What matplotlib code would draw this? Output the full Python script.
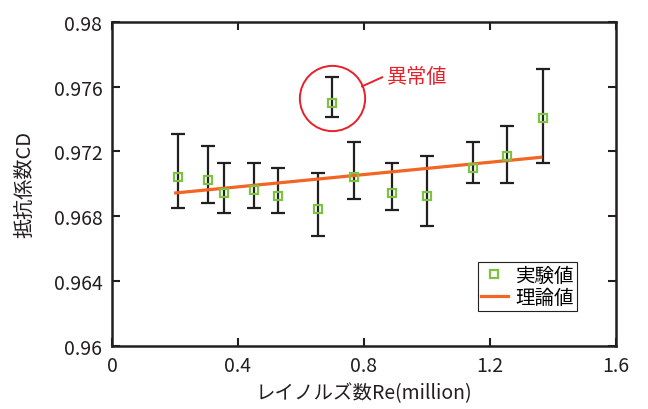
import matplotlib
matplotlib.use("Agg")
import matplotlib.pyplot as plt

plt.rcParams['font.family'] = ['Noto Sans CJK JP', 'DejaVu Sans']

# measured values (Re in million)
re_exp = [0.211, 0.305, 0.355, 0.452, 0.526, 0.655, 0.699, 0.767, 0.888, 1.000, 1.146, 1.254, 1.367]
cd_exp = [0.97043, 0.97023, 0.96941, 0.96961, 0.96922, 0.96844, 0.97500, 0.97043, 0.96943, 0.96922, 0.97099, 0.97169, 0.97404]
cd_top = [0.97309, 0.97235, 0.97126, 0.97126, 0.97099, 0.97068, 0.97659, 0.97259, 0.97126, 0.97173, 0.97259, 0.97358, 0.97708]
cd_bot = [0.96848, 0.96879, 0.96817, 0.96848, 0.96817, 0.96679, 0.97412, 0.96906, 0.96836, 0.96741, 0.97004, 0.97004, 0.97128]

# theory line
re_th = [0.2025, 1.361]
cd_th = [0.96943, 0.97163]

outlier = 6

xticks = [0, 0.4, 0.8, 1.2, 1.6]
yticks = [0.96, 0.964, 0.968, 0.972, 0.976, 0.98]

green = '#7dc242'
orange = '#f26522'
red = '#e8202a'

fig = plt.figure(figsize=(6.48, 4.10), dpi=100)
ax = fig.add_axes([0.1728, 0.1544, 0.7778, 0.7902])

lo = [c - b for c, b in zip(cd_exp, cd_bot)]
hi = [t - c for c, t in zip(cd_exp, cd_top)]
ax.errorbar(re_exp, cd_exp, yerr=[lo, hi], fmt='none', ecolor='#231f20',
            elinewidth=1.6, capsize=4.8, capthick=1.6, zorder=2)
ax.plot(re_th, cd_th, color=orange, lw=2.3, zorder=3, label='理論値')
ax.plot(re_exp, cd_exp, 's', ms=6.2, mfc='none', mec=green, mew=1.6,
        zorder=4, label='実験値')

# circle around outlier + callout
ax.plot(re_exp[outlier] - 0.002, cd_exp[outlier] + 0.0003, 'o', ms=47, mfc='none',
        mec=red, mew=1.4, zorder=5)
ax.plot([0.794, 0.8576], [0.97601, 0.97657], color=red, lw=1.4, zorder=5)
ax.text(0.8734, 0.97663, '異常値', color=red, fontsize=14.5, ha='left', va='center')

ax.set_xlim(0, 1.6)
ax.set_ylim(0.96, 0.98)
ax.set_xticks(xticks)
ax.set_xticklabels(['0', '0.4', '0.8', '1.2', '1.6'])
ax.set_yticks(yticks)
ax.set_yticklabels(['0.96', '0.964', '0.968', '0.972', '0.976', '0.98'])
ax.tick_params(direction='in', length=6, width=1.5, top=True, right=True,
               labelsize=14, pad=7, colors='#231f20')
for s in ax.spines.values():
    s.set_linewidth(1.8)
    s.set_color('#231f20')

ax.set_xlabel('レイノルズ数Re(million)', fontsize=14, color='#231f20', labelpad=4)
ax.set_ylabel('抵抗係数CD', fontsize=14.5, color='#231f20', labelpad=13)

handles, labels = ax.get_legend_handles_labels()
leg = ax.legend(handles[::-1], labels[::-1], loc='lower right', fontsize=14,
                fancybox=False, edgecolor='#231f20', framealpha=1,
                handlelength=1.4, handletextpad=0.4, borderpad=0.15,
                labelspacing=0.05, borderaxespad=0.0,
                bbox_to_anchor=(0.923, 0.107))
leg.get_frame().set_linewidth(0.8)

fig.savefig('out.png', dpi=100)
